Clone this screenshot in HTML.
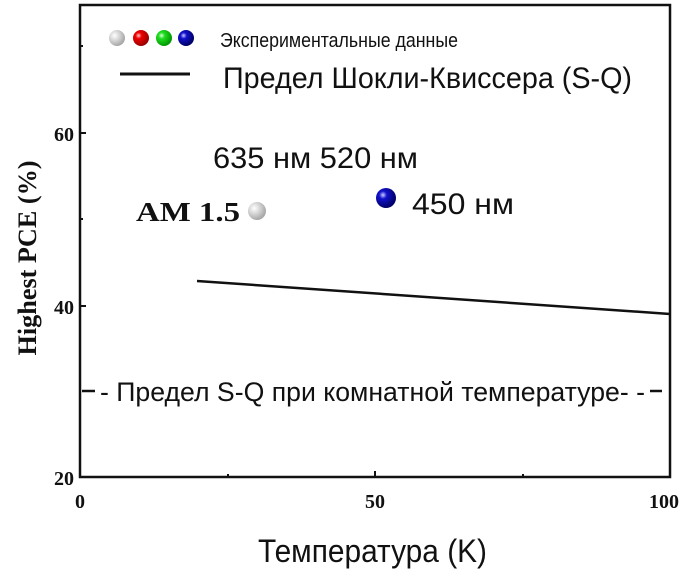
<!DOCTYPE html>
<html><head><meta charset="utf-8"><style>
html,body{margin:0;padding:0;background:#fff;}
</style></head><body>
<svg width="693" height="573" xmlns="http://www.w3.org/2000/svg">
<defs>
<radialGradient id="gw" cx="35%" cy="35%" r="65%"><stop offset="0" stop-color="#fff"/><stop offset="1" stop-color="#a8a8a8"/></radialGradient>
<radialGradient id="gr" cx="35%" cy="35%" r="65%"><stop offset="0" stop-color="#fcc"/><stop offset="0.3" stop-color="#e00"/><stop offset="1" stop-color="#900"/></radialGradient>
<radialGradient id="gg" cx="35%" cy="35%" r="65%"><stop offset="0" stop-color="#dfd"/><stop offset="0.3" stop-color="#2d2"/><stop offset="1" stop-color="#090"/></radialGradient>
<radialGradient id="gb" cx="35%" cy="35%" r="65%"><stop offset="0" stop-color="#ccf"/><stop offset="0.3" stop-color="#11c"/><stop offset="1" stop-color="#006"/></radialGradient>
</defs>
<rect x="80" y="5" width="590" height="472" fill="none" stroke="#111" stroke-width="2.5"/>
<g stroke="#111" stroke-width="2">
<line x1="80" y1="133" x2="86" y2="133"/><line x1="80" y1="306" x2="86" y2="306"/>
<line x1="80" y1="46" x2="83" y2="46"/><line x1="80" y1="219" x2="83" y2="219"/>
<line x1="375" y1="477" x2="375" y2="471"/><line x1="228" y1="477" x2="228" y2="474"/><line x1="523" y1="477" x2="523" y2="474"/>
</g>
<line x1="197" y1="281" x2="670" y2="314" stroke="#111" stroke-width="2.5"/>
<line x1="82" y1="391" x2="95" y2="391" stroke="#111" stroke-width="2.5"/>
<line x1="650" y1="391" x2="662" y2="391" stroke="#111" stroke-width="2.5"/>
<line x1="120" y1="74" x2="190" y2="74" stroke="#111" stroke-width="3"/>
<circle cx="117" cy="38" r="8" fill="url(#gw)"/>
<circle cx="141" cy="38" r="8" fill="url(#gr)"/>
<circle cx="164" cy="38" r="8" fill="url(#gg)"/>
<circle cx="186" cy="38" r="8" fill="url(#gb)"/>
<circle cx="257" cy="211" r="9" fill="url(#gw)"/>
<circle cx="386" cy="198" r="10" fill="url(#gb)"/>
<g font-family="Liberation Sans, sans-serif" fill="#111">
<text x="220" y="47" font-size="20" textLength="238" lengthAdjust="spacingAndGlyphs">Экспериментальные данные</text>
<text x="223" y="88" font-size="30" textLength="409" lengthAdjust="spacingAndGlyphs">Предел Шокли-Квиссера (S-Q)</text>
<text x="213" y="168" font-size="30" textLength="205" lengthAdjust="spacingAndGlyphs">635 нм 520 нм</text>
<text x="412" y="214" font-size="30" textLength="102" lengthAdjust="spacingAndGlyphs">450 нм</text>
<text x="100" y="401" font-size="27" textLength="545" lengthAdjust="spacingAndGlyphs">- Предел S-Q при комнатной температуре- -</text>
<text x="258" y="562" font-size="32" textLength="229" lengthAdjust="spacingAndGlyphs">Температура (K)</text>
</g>
<g font-family="Liberation Serif, serif" font-weight="bold" fill="#111">
<text x="136" y="221" font-size="27" textLength="104" lengthAdjust="spacingAndGlyphs">AM 1.5</text>
<text x="74" y="141" font-size="20" text-anchor="end">60</text>
<text x="74" y="314" font-size="20" text-anchor="end">40</text>
<text x="74" y="485" font-size="20" text-anchor="end">20</text>
<text x="80" y="508" font-size="20" text-anchor="middle">0</text>
<text x="375" y="508" font-size="20" text-anchor="middle">50</text>
<text x="664" y="508" font-size="20" text-anchor="middle">100</text>
<text transform="translate(36,258) rotate(-90)" font-size="26" text-anchor="middle" textLength="195" lengthAdjust="spacingAndGlyphs">Highest PCE (%)</text>
</g>
</svg>
</body></html>
